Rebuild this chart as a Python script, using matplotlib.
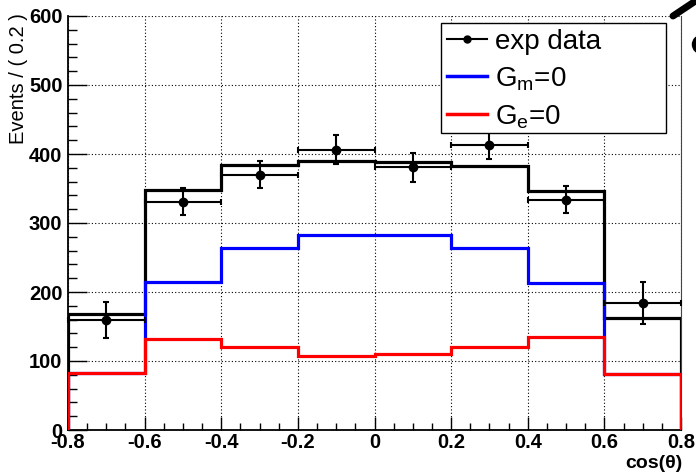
import matplotlib as mpl
import matplotlib.pyplot as plt
from matplotlib.lines import Line2D
from matplotlib.patches import Rectangle
import numpy as np

# bins of cos(theta), 0.2 wide
edges = [-0.8, -0.6, -0.4, -0.2, 0.0, 0.2, 0.4, 0.6, 0.8]
total_fit = [168, 348, 384, 390, 389, 383, 347, 163]
gm_zero = [83, 215, 264, 283, 282, 264, 213, 81]
ge_zero = [83, 132, 120, 107, 110, 120, 135, 81]

# measured points
data_x = [-0.7, -0.5, -0.3, -0.1, 0.1, 0.3, 0.5, 0.7]
data_y = [160, 331, 370, 406, 381, 413, 334, 184]
data_err = [26, 19, 20, 21, 21, 20, 20, 30]
data_xerr = 0.1

xtick_vals = [-0.8, -0.6, -0.4, -0.2, 0.0, 0.2, 0.4, 0.6, 0.8]
xtick_labels = ['-0.8', '-0.6', '-0.4', '-0.2', '0', '0.2', '0.4', '0.6', '0.8']
ytick_vals = [0, 100, 200, 300, 400, 500, 600]


def px(x, y):
    # figure pixel position (from top left) -> figure fraction
    return x / 696.0, 1 - y / 474.0


if __name__ == '__main__':
    mpl.rc('font', family=['Liberation Sans', 'DejaVu Sans'])
    mpl.rc('mathtext', fontset='custom', rm='Liberation Sans')

    fig = plt.figure(figsize=(6.96, 4.74), dpi=100)
    x0, y0 = px(68, 430)
    x1, y1 = px(681, 16)
    ax = fig.add_axes([x0, y0, x1 - x0, y1 - y0])

    ax.stairs(total_fit, edges, baseline=0, color='black', lw=2.3, zorder=3)
    ax.stairs(gm_zero, edges, baseline=0, color='#0000ff', lw=2.3, zorder=4)
    ax.stairs(ge_zero, edges, baseline=0, color='#ff0000', lw=2.3, zorder=5)
    ax.errorbar(data_x, data_y, yerr=data_err, xerr=data_xerr, fmt='o',
                color='black', ms=6, elinewidth=1.5, capsize=2.5,
                capthick=1.5, zorder=6, clip_on=False)

    ax.set_xlim(-0.8, 0.8)
    ax.set_ylim(0, 600)
    ax.set_xticks(xtick_vals)
    ax.set_xticklabels(xtick_labels)
    ax.set_yticks(ytick_vals)
    ax.xaxis.set_minor_locator(mpl.ticker.MultipleLocator(0.05))
    ax.yaxis.set_minor_locator(mpl.ticker.MultipleLocator(20))
    for lab in ax.get_xticklabels() + ax.get_yticklabels():
        lab.set_fontweight('bold')
        lab.set_fontsize(14.5)
    ax.tick_params(axis='y', which='major', direction='in', length=14,
                   width=1, pad=4)
    ax.tick_params(axis='y', which='minor', direction='in', length=6.5,
                   width=1)
    ax.tick_params(axis='x', which='major', direction='in', length=9.5,
                   width=1, pad=2)
    ax.tick_params(axis='x', which='minor', direction='in', length=5,
                   width=1)
    ax.grid(True, which='major', color='black', lw=0.8,
            linestyle=(0, (1, 2)))

    ax.spines['left'].set_linewidth(1.3)
    ax.spines['bottom'].set_linewidth(1.3)
    ax.spines['top'].set_visible(False)
    ax.spines['right'].set_linewidth(0.8)
    ax.spines['right'].set_color('#444444')

    # axis titles, ROOT style (at the end of the axes)
    tx, ty = px(19, 13)
    fig.text(tx, ty, 'Events / ( 0.2 )', rotation=90, ha='center',
             va='top', fontsize=14.5)
    tx, ty = px(682, 464)
    fig.text(tx, ty, 'cos(\u03b8)', ha='right', va='center',
             fontsize=14, fontweight='bold')

    # legend box with fixed size
    bx, by = px(441, 133)
    bx2, by2 = px(666, 23)
    fig.add_artist(Rectangle((bx, by), bx2 - bx, by2 - by,
                             transform=fig.transFigure, facecolor='white',
                             edgecolor='black', lw=1, zorder=10))
    handles = [Line2D([], [], color='black', lw=1.5, marker='o', ms=5),
               Line2D([], [], color='#0000ff', lw=2.5),
               Line2D([], [], color='#ff0000', lw=2.5)]
    labels = ['exp data', 'G$_\\mathregular{m}$=0', 'G$_\\mathregular{e}$=0']
    lx, ly = px(441, 23)
    leg = fig.legend(handles, labels, loc='upper left',
                     bbox_to_anchor=(lx, ly), frameon=False, fontsize=20,
                     handlelength=1.45, handletextpad=0.3,
                     labelspacing=0.37, borderpad=0.2, borderaxespad=0)
    leg.set_zorder(11)

    # stray marks in the top right corner of the original canvas
    fig.add_artist(Line2D([673 / 696.0, 700 / 696.0],
                          [1 - 16 / 474.0, 1 + 2 / 474.0],
                          transform=fig.transFigure, color='black', lw=5,
                          solid_capstyle='round'))
    fig.add_artist(Line2D([701 / 696.0], [1 - 44 / 474.0],
                          transform=fig.transFigure, color='black',
                          marker='o', ms=13, lw=0))

    fig.savefig('out.png', dpi=100)
